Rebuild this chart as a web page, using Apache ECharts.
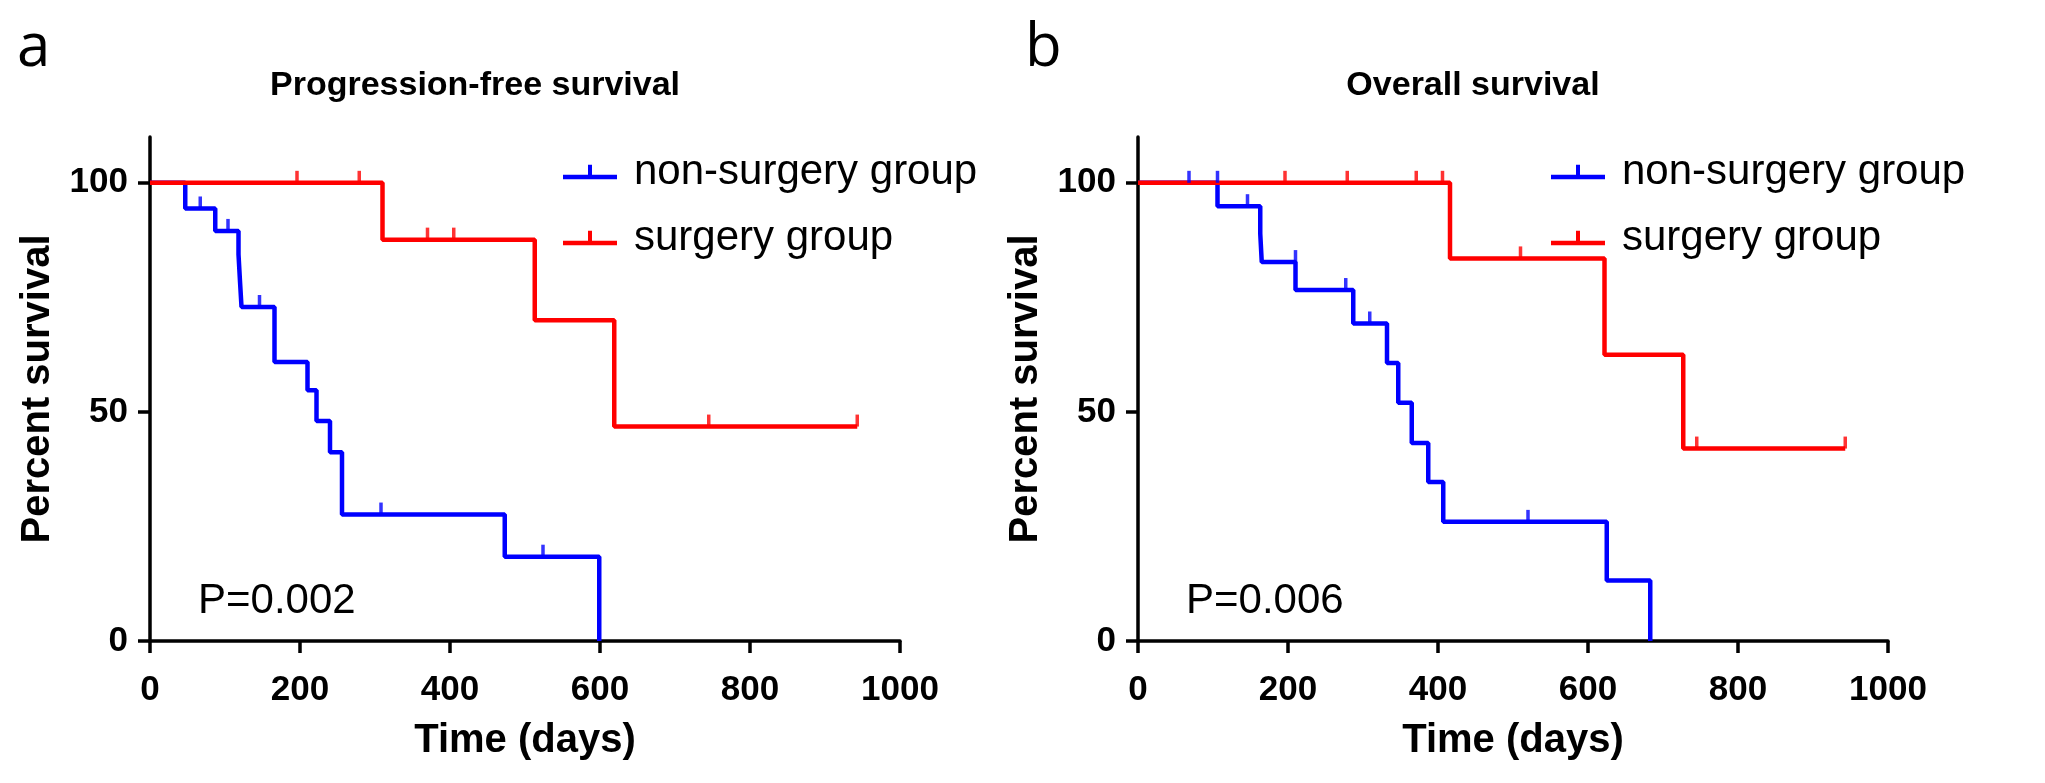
<!DOCTYPE html>
<html><head><meta charset="utf-8">
<script src="https://cdn.jsdelivr.net/npm/echarts@6/dist/echarts.min.js"></script>
<style>html,body{margin:0;padding:0;background:#fff}#c{width:2045px;height:783px}</style>
</head><body><div id="c"></div>
<script>
// ---- Data (days, percent survival) ----
const seriesNames = ['non-surgery group', 'surgery group'];
const xTicks = [0, 200, 400, 600, 800, 1000];
const yTicks = [0, 50, 100];

// Panel a: Progression-free survival
const pfsNonTimes = [0, 47, 87, 118, 120, 122, 166, 210, 222, 240, 256, 473, 599];
const pfsNonVals  = [100, 94.4, 89.5, 84.4, 78.5, 72.9, 60.9, 54.7, 48.0, 41.2, 27.6, 18.4, 0];
const pfsNonCensT = [67, 104, 146, 308, 524];
const pfsNonCensV = [94.4, 89.5, 72.9, 27.6, 18.4];
const pfsSurTimes = [0, 310, 513, 619, 943];
const pfsSurVals  = [100, 87.6, 70.0, 46.8, 46.8];
const pfsSurCensT = [196, 279, 370, 405, 745, 943];
const pfsSurCensV = [100, 100, 87.6, 87.6, 46.8, 46.8];

// Panel b: Overall survival
const osNonTimes = [0, 106, 163, 165, 210, 287, 332, 347, 365, 387, 407, 625, 683];
const osNonVals  = [100, 94.9, 88.9, 82.7, 76.6, 69.3, 60.7, 52.0, 43.2, 34.7, 26.0, 13.2, 0];
const osNonCensT = [68, 106, 146, 210, 277, 309, 520];
const osNonCensV = [100, 100, 94.9, 82.7, 76.6, 69.3, 26.0];
const osSurTimes = [0, 416, 622, 727, 943];
const osSurVals  = [100, 83.5, 62.5, 42.0, 42.0];
const osSurCensT = [196, 279, 371, 406, 510, 745, 943];
const osSurCensV = [100, 100, 100, 100, 83.5, 42.0, 42.0];

const panelLetters = ['a', 'b'];
const panelTitles = ['Progression-free survival', 'Overall survival'];
const pTexts = ['P=0.002', 'P=0.006'];

// ---- Build ----
const BLUE = '#0000ff', RED = '#ff0000';
const FONT = '"Liberation Sans", Arial, sans-serif';
const zip = (a, b) => a.map((v, i) => [v, b[i]]);

const grids = [
  {left: 150, width: 750, top: 137, height: 504},
  {left: 1138, width: 750, top: 137, height: 504}
];

function xAxis(i) {
  return {
    gridIndex: i, type: 'value', min: 0, max: 1000, interval: 200,
    name: 'Time (days)', nameLocation: 'middle', nameGap: 80,
    nameTextStyle: {fontFamily: FONT, fontWeight: 'bold', fontSize: 40, color: '#000'},
    axisLine: {show: true, lineStyle: {color: '#000', width: 3.5}},
    axisTick: {show: true, length: 12, lineStyle: {color: '#000', width: 3.5}},
    axisLabel: {fontFamily: FONT, fontWeight: 'bold', fontSize: 35, color: '#000', margin: 32,
      customValues: xTicks, formatter: v => String(v)},
    splitLine: {show: false}
  };
}
function yAxis(i) {
  return {
    gridIndex: i, type: 'value', min: 0, max: 110,
    name: 'Percent survival', nameLocation: 'middle', nameGap: 92,
    nameTextStyle: {fontFamily: FONT, fontWeight: 'bold', fontSize: 40, color: '#000'},
    axisLine: {show: true, lineStyle: {color: '#000', width: 3.5}},
    axisTick: {show: true, length: 12, lineStyle: {color: '#000', width: 3.5}, customValues: yTicks},
    axisLabel: {fontFamily: FONT, fontWeight: 'bold', fontSize: 35, color: '#000', margin: 22,
      customValues: yTicks, formatter: v => String(v)},
    splitLine: {show: false}
  };
}
function stepSeries(name, color, t, v, gi) {
  return {
    name: name, type: 'line', step: 'end', xAxisIndex: gi, yAxisIndex: gi,
    data: zip(t, v), showSymbol: false, symbol: 'none',
    lineStyle: {color: color, width: 4.5}, itemStyle: {color: color},
    z: 3
  };
}
function censSeries(name, color, t, v, gi) {
  return {
    name: name, type: 'scatter', xAxisIndex: gi, yAxisIndex: gi,
    data: zip(t, v), symbol: 'rect', symbolSize: [3.5, 12], symbolOffset: [0, -6],
    itemStyle: {color: color}, z: 4
  };
}
const legendIcon = 'path://M0,10 L54,10 L54,14.5 L0,14.5 Z M25,0 L29,0 L29,10 L25,10 Z';
function legend(left) {
  return {
    data: seriesNames, orient: 'vertical', left: left, top: 146,
    icon: legendIcon, itemWidth: 54, itemHeight: 15, itemGap: 24,
    selectedMode: false,
    textStyle: {fontFamily: FONT, fontSize: 42, color: '#000', padding: [0, 0, 0, 12]}
  };
}

const option = {
  animation: false,
  backgroundColor: '#fff',
  title: [
    {text: panelTitles[0], left: 470, top: 64, textAlign: 'center',
      textStyle: {fontFamily: FONT, fontWeight: 'bold', fontSize: 34, color: '#000'}},
    {text: panelTitles[1], left: 1468, top: 64, textAlign: 'center',
      textStyle: {fontFamily: FONT, fontWeight: 'bold', fontSize: 34, color: '#000'}},
    {text: panelLetters[0], left: 12, top: 14,
      textStyle: {fontFamily: '"Open Sans", sans-serif', fontWeight: 'normal', fontSize: 60, color: '#000'}},
    {text: panelLetters[1], left: 1020, top: 14,
      textStyle: {fontFamily: '"Open Sans", sans-serif', fontWeight: 'normal', fontSize: 60, color: '#000'}}
  ],
  legend: [legend(558), legend(1546)],
  grid: grids,
  xAxis: [xAxis(0), xAxis(1)],
  yAxis: [yAxis(0), yAxis(1)],
  graphic: [
    {type: 'text', left: 198, top: 580, style: {text: pTexts[0], font: '42px "Liberation Sans", Arial, sans-serif', fill: '#000'}},
    {type: 'text', left: 1186, top: 580, style: {text: pTexts[1], font: '42px "Liberation Sans", Arial, sans-serif', fill: '#000'}}
  ],
  series: [
    stepSeries(seriesNames[0], BLUE, pfsNonTimes, pfsNonVals, 0),
    stepSeries(seriesNames[1], RED, pfsSurTimes, pfsSurVals, 0),
    censSeries('pfs-non-censor', BLUE, pfsNonCensT, pfsNonCensV, 0),
    censSeries('pfs-sur-censor', RED, pfsSurCensT, pfsSurCensV, 0),
    stepSeries(seriesNames[0], BLUE, osNonTimes, osNonVals, 1),
    stepSeries(seriesNames[1], RED, osSurTimes, osSurVals, 1),
    censSeries('os-non-censor', BLUE, osNonCensT, osNonCensV, 1),
    censSeries('os-sur-censor', RED, osSurCensT, osSurCensV, 1)
  ]
};
const chart = echarts.init(document.getElementById('c'), null, {renderer: 'canvas'});
chart.setOption(option);
</script></body></html>
